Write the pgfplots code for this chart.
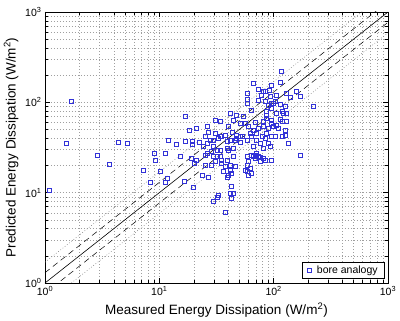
\documentclass[border=0pt]{standalone}
\usepackage{pgfplots}
\pgfplotsset{compat=1.18}
\usepackage{fontspec}
\setmainfont{Liberation Sans}
\definecolor{mblue}{RGB}{50,50,215}
\pgfplotstableread{
x y
1.09 10.5
1.53 35.2
1.69 102
2.89 26.2
3.65 20.8
4.38 36.1
5.25 35.2
7.25 17.5
8.29 13.0
9.04 27.3
9.3 23.0
10.1 17.1
11.2 27.3
11.2 13.2
11.8 14.4
12.0 37.6
14.2 34.4
15.2 25.1
16.5 13.5
16.8 37.4
17.0 70.7
18.1 48.6
19.2 24.0
19.6 36.7
19.6 34.6
19.8 11.4
20.3 21.0
21.2 51.7
22.2 35.8
21.2 23
23.5 15.7
25.1 20.3
25.1 26.1
26 35.2
26.8 15.0
28.7 20.3
28.7 28.4
29.7 38.3
29.7 25.1
30.7 22.0
31.8 29.7
32.9 40.0
34 25.1
35 41.7
35 23
35.1 21.1
36.3 17.1
37.6 19.4
38.9 36.7
38.9 23
38.9 15.0
40.2 29.7
40.2 15.7
41.6 38.3
41.6 20.3
41.6 17.8
42.9 16.4
44.4 31.0
46.0 19.4
47.5 40.0
50.8 41.7
56.2 17.8
58.2 20.3
58.2 17.1
60.1 22
60.1 15.7
62.2 18.6
64.3 16.4
64.1 41.7
64.1 26.1
68.8 26.1
68.8 24
71.1 38.3
73.5 25.1
76 22.1
81.3 24.0
84.1 23
84.1 40.0
96.2 23
96 41.7
42.9 11.7
41.6 9.8
44.4 9.8
32.9 9.4
31.8 9.0
42.9 8.7
29.7 8.0
37.6 6.0
116 223
66.5 163
114 167
73.5 140
81.3 134
91 137
77.6 121
94.3 118
159 131
170 116
139 114
73.5 106
84.1 104
103 102
114 96
126 91
222 91
41.6 75.6
47.5 72.5
54.3 70.6
96.2 86
106 75.6
118 78.9
130 75.6
86.9 78.9
34.0 61.1
44.4 63.8
50.8 58.6
60.1 54.8
68.8 59.6
86 66.6
96.2 63.8
114 64.9
81.3 53.8
89.9 51.6
106 56.2
26.0 53.8
73.5 51.6
30.7 45.4
34.0 42.4
37.6 43.5
43.0 46.2
47.5 43.5
53.6 41.7
62.2 45.4
71.1 45.4
78.7 41.7
86.9 45.4
103 41.7
126 43.5
25.1 41.7
27.8 38.3
46 38.3
58.2 38.3
50.8 35.8
89.9 35.2
76 35.2
66.5 32.3
81.3 31.0
93.1 32.3
135 35.2
24.3 32.3
29.7 32.3
34.0 29.7
38.9 31.0
26.0 27.3
71.1 27.3
170 26.1
58.2 25.1
66.5 25.1
76 24.8
44.4 25.1
31.8 25.1
26.8 47.2
30.8 63.8
40.2 53.8
56.2 58.6
58.2 108
58.2 97.7
59.3 126
64.1 82.4
84 131
89.9 93.6
96 97.7
87 72.5
81.3 61.1
66.5 49.4
96 58.6
96 155
106 121
130 126
99.5 97.7
122 75.6
118 61
130 61
99.5 53.8
110 51.6
126 49.4
118 41.7
}\bore
\begin{document}
\begin{tikzpicture}
\begin{axis}[
  at={(0pt,0pt)}, anchor=south west,
  width=343pt, height=271pt, scale only axis,
  xmode=log, ymode=log,
  xmin=1, xmax=1000, ymin=1, ymax=1000,
  xtick={1,10,100,1000}, ytick={1,10,100,1000},
  xticklabels={10\textsuperscript{0},10\textsuperscript{1},10\textsuperscript{2},10\textsuperscript{3}},
  yticklabels={10\textsuperscript{0},10\textsuperscript{1},10\textsuperscript{2},10\textsuperscript{3}},
  grid=both,
  major grid style={gray!75, line width=0.4pt, dash pattern=on 0.8pt off 2.2pt},
  minor grid style={gray!75, line width=0.4pt, dash pattern=on 0.8pt off 2.2pt},
  tick align=inside,
  major tick length=5pt, minor tick length=3pt,
  tick style={black, line width=0.4pt},
  axis line style={black, line width=0.5pt},
  ticklabel style={font=\fontsize{10.5}{12}\selectfont},
  label style={font=\fontsize{13.5}{16}\selectfont},
  xlabel={Measured Energy Dissipation (W/m\textsuperscript{2})},
  ylabel={Predicted Energy Dissipation (W/m\textsuperscript{2})},
  legend style={at={(0.991,0.015)}, anchor=south east, draw=black, line width=0.5pt,
    font=\fontsize{10.5}{12}\selectfont, inner xsep=5pt, inner ysep=1.5pt},
  legend cell align=left,
  clip=true,
]
\addplot[black, line width=0.6pt, forget plot] coordinates {(1,1) (1000,1000)};
\addplot[black, line width=0.5pt, dash pattern=on 6pt off 4pt, forget plot] coordinates {(1,1.3) (1000,1300)};
\addplot[black, line width=0.5pt, dash pattern=on 6pt off 4pt, forget plot] coordinates {(1,0.769) (1000,769)};
\addplot[gray, line width=0.5pt, dash pattern=on 0.8pt off 2pt, forget plot] coordinates {(1,1.7) (1000,1700)};
\addplot[gray, line width=0.5pt, dash pattern=on 0.8pt off 2pt, forget plot] coordinates {(1,0.588) (1000,588)};
\addplot[mblue, only marks, mark=square, mark size=2pt, line width=0.5pt, mark options={draw=mblue, solid, line width=0.5pt}] table[x=x,y=y] {\bore};
\addlegendentry{\hspace{4pt}bore analogy}
\end{axis}
\pgfresetboundingbox
\path (-45pt,-38pt) rectangle (355pt,283pt);
\end{tikzpicture}
\end{document}
